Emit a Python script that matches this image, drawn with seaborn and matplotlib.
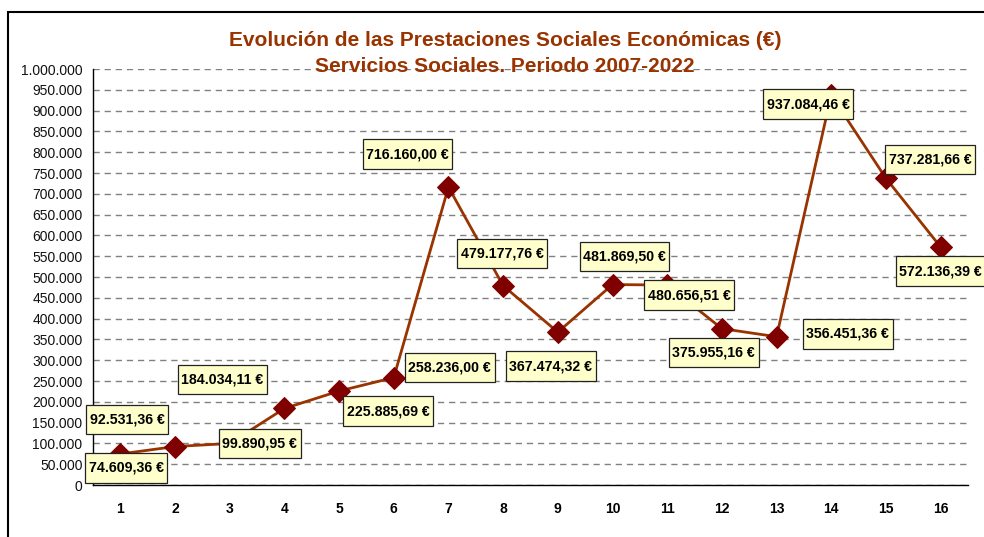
import numpy as np
import pandas as pd
import matplotlib
matplotlib.use("Agg")
import matplotlib.pyplot as plt
from matplotlib.patches import Rectangle
import seaborn as sns

# data
periods = list(range(1, 17))
values = [74609.36, 92531.36, 99890.95, 184034.11, 225885.69, 258236.00,
          716160.00, 479177.76, 367474.32, 481869.50, 480656.51, 375955.16,
          356451.36, 937084.46, 737281.66, 572136.39]

# label box offsets from each point (pixels)
label_dx = [6, -48, 30, -62, 49, 56, -41, -1, -7, 12, 22, -8, 71, -23, 44, 0]
label_dy = [-14, 27, 0, 29, -20, 10, 33, 32, -34, 28, -10, -24, 3, -9, 19, -24]

title_1 = "Evolución de las Prestaciones Sociales Económicas (€)"
title_2 = "Servicios Sociales. Periodo 2007-2022"


def euro(v):
    s = f"{v:,.2f}".replace(",", "X").replace(".", ",").replace("X", ".")
    return s + " €"


df = pd.DataFrame({"periodo": periods, "importe": values})

sns.set_style("white")
plt.rcParams["font.family"] = ["Liberation Sans", "DejaVu Sans"]
plt.rcParams["text.color"] = "black"
plt.rcParams["xtick.color"] = "black"
plt.rcParams["ytick.color"] = "black"
plt.rcParams["xtick.labelcolor"] = "black"
plt.rcParams["ytick.labelcolor"] = "#111111"

fig = plt.figure(figsize=(9.84, 5.37), dpi=100)
ax = fig.add_axes([0.0945, 0.0968, 0.8892, 0.7747])

sns.lineplot(data=df, x="periodo", y="importe", ax=ax, color="#993300", lw=2,
             marker="D", markersize=11, markerfacecolor="#800000",
             markeredgecolor="#800000", zorder=3)

# axes
ax.set_ylim(0, 1000000)
ax.set_xlim(0.5, 16.5)
yt = np.arange(0, 1000001, 50000)
ax.set_yticks(yt)
ax.set_yticklabels([f"{int(v):,}".replace(",", ".") for v in yt], fontsize=10)
ax.yaxis.grid(True, linestyle=(0, (4.5, 3.5)), color="#808080", lw=1)
ax.set_axisbelow(True)

ax.set_xticks(np.arange(0.5, 17, 1))
ax.set_xticklabels([])
ax.set_xticks(periods, minor=True)
ax.set_xticklabels([str(p) for p in periods], minor=True, fontsize=10,
                   fontweight="bold")
ax.tick_params(axis="x", which="major", length=5, direction="out", color="black")
ax.tick_params(axis="x", which="minor", length=0, pad=12)
ax.tick_params(axis="y", length=7, direction="inout", color="black", pad=4)

for s in ["top", "right"]:
    ax.spines[s].set_visible(False)
for s in ["left", "bottom"]:
    ax.spines[s].set_color("black")
    ax.spines[s].set_linewidth(1)

ax.set_xlabel("")
ax.set_ylabel("")

# value labels
for p, v, dx, dy in zip(periods, values, label_dx, label_dy):
    ax.annotate(euro(v), xy=(p, v), xytext=(dx, dy), textcoords="offset pixels",
                ha="center", va="center", fontsize=10.2, fontweight="bold",
                color="black",
                bbox=dict(boxstyle="square,pad=0.25", fc="#FFFFCC", ec="#222222",
                          lw=0.9, mutation_aspect=2.2),
                zorder=5, annotation_clip=False)

# title
fig.text(0.513, 1 - 40 / 537, title_1, ha="center", va="center", fontsize=15,
         fontweight="bold", color="#993300")
fig.text(0.513, 1 - 67 / 537, title_2, ha="center", va="center", fontsize=15,
         fontweight="bold", color="#993300")

# outer chart frame
fig.patches.append(Rectangle((0.008, -0.5), 1.5, 0.978 + 0.5,
                             transform=fig.transFigure, fill=False,
                             ec="black", lw=1.5))

fig.savefig("out.png", dpi=100)
